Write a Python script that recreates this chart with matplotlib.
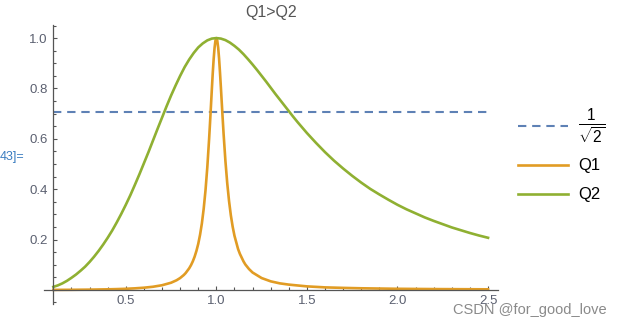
import matplotlib
matplotlib.use("Agg")
import matplotlib.pyplot as plt
from matplotlib.lines import Line2D
from matplotlib.ticker import MultipleLocator, FixedLocator

plt.rcParams['font.family'] = ['Liberation Sans', 'DejaVu Sans']
plt.rcParams['mathtext.fontset'] = 'custom'
plt.rcParams['mathtext.rm'] = 'Liberation Sans'
plt.rcParams['mathtext.it'] = 'Liberation Sans:italic'

# ---- data ----
title = "Q1>Q2"
series_names = ["Q1", "Q2"]
threshold = 0.7071
threshold_x = [0.1, 2.5]

x_q2 = [0.1, 0.125, 0.15, 0.175, 0.2, 0.225, 0.25, 0.275, 0.3, 0.325, 0.35,
        0.375, 0.4, 0.425, 0.45, 0.475, 0.5, 0.525, 0.55, 0.575, 0.6, 0.625,
        0.65, 0.675, 0.7, 0.725, 0.75, 0.775, 0.8, 0.825, 0.85, 0.875, 0.9,
        0.925, 0.95, 0.975, 1.0, 1.025, 1.05, 1.075, 1.1, 1.125, 1.15, 1.175,
        1.2, 1.225, 1.25, 1.275, 1.3, 1.325, 1.35, 1.375, 1.4, 1.425, 1.45,
        1.475, 1.5, 1.55, 1.6, 1.65, 1.7, 1.75, 1.8, 1.85, 1.9, 1.95, 2.0,
        2.05, 2.1, 2.15, 2.2, 2.25, 2.3, 2.35, 2.4, 2.45, 2.5]
q2 = [0.012, 0.018, 0.026, 0.036, 0.048, 0.061, 0.076, 0.092, 0.111, 0.132,
      0.155, 0.180, 0.207, 0.236, 0.268, 0.302, 0.338, 0.376, 0.417, 0.459,
      0.503, 0.547, 0.593, 0.639, 0.684, 0.729, 0.772, 0.812, 0.850, 0.885,
      0.915, 0.941, 0.963, 0.979, 0.991, 0.998, 1.0, 0.998, 0.992, 0.982,
      0.969, 0.954, 0.936, 0.916, 0.895, 0.873, 0.850, 0.827, 0.803, 0.779,
      0.756, 0.733, 0.710, 0.687, 0.665, 0.644, 0.623, 0.584, 0.547, 0.513,
      0.482, 0.453, 0.426, 0.401, 0.379, 0.358, 0.338, 0.320, 0.304, 0.288,
      0.274, 0.261, 0.248, 0.237, 0.226, 0.216, 0.207]

x_q1 = [0.1, 0.15, 0.2, 0.3, 0.4, 0.45, 0.5, 0.55, 0.6, 0.65, 0.7, 0.75, 0.78,
        0.8, 0.82, 0.83, 0.85, 0.86, 0.87, 0.88, 0.89, 0.9, 0.91, 0.92, 0.93,
        0.94, 0.95, 0.96, 0.965, 0.97, 0.975, 0.98, 0.985, 0.99, 0.995, 1.0,
        1.005, 1.01, 1.015, 1.02, 1.025, 1.03, 1.035, 1.04, 1.05, 1.06, 1.07,
        1.08, 1.09, 1.1, 1.12, 1.13, 1.15, 1.16, 1.18, 1.2, 1.25, 1.3, 1.35,
        1.4, 1.5, 1.6, 1.7, 1.8, 2.0, 2.2, 2.5]
q1 = [0.0001, 0.0002, 0.0004, 0.0011, 0.0023, 0.0032, 0.0044, 0.0062, 0.0087,
      0.0125, 0.0185, 0.0285, 0.0382, 0.0471, 0.059, 0.0665, 0.0858, 0.0983,
      0.1135, 0.132, 0.155, 0.183, 0.219, 0.264, 0.322, 0.395, 0.487, 0.600,
      0.663, 0.729, 0.796, 0.860, 0.916, 0.961, 0.990, 1.0, 0.990, 0.962,
      0.919, 0.864, 0.804, 0.741, 0.679, 0.619, 0.512, 0.424, 0.353, 0.296,
      0.251, 0.215, 0.162, 0.143, 0.113, 0.101, 0.083, 0.069, 0.047, 0.034,
      0.026, 0.021, 0.014, 0.010, 0.008, 0.0064, 0.0044, 0.0033, 0.0023]

x_ticks = [0.5, 1.0, 1.5, 2.0, 2.5]
y_ticks = [0.2, 0.4, 0.6, 0.8, 1.0]

c_dash = '#5E81B5'
c_q1 = '#E19C24'
c_q2 = '#8FB032'
c_axis = '#555555'
c_tick = '#5b6070'

W, H = 621, 328
fig = plt.figure(figsize=(W / 100, H / 100), dpi=100)
ax = fig.add_axes([44.3 / W, 1 - 304 / H, (498 - 44.3) / W, (304 - 25) / H])

lw = 1.9
ax.plot(threshold_x, [threshold, threshold], color=c_dash, lw=1.5,
        dashes=(4, 2.8), dash_capstyle='butt')
ax.plot(x_q1, q1, color=c_q1, lw=lw, solid_joinstyle='round')
ax.plot(x_q2, q2, color=c_q2, lw=lw, solid_joinstyle='round')

ax.set_xlim(0.05, 2.555)
ax.set_ylim(-0.056, 1.052)

for s in ['top', 'right']:
    ax.spines[s].set_visible(False)
ax.spines['left'].set_position(('data', 0.1))
ax.spines['bottom'].set_position(('data', 0.0))
for s in ['left', 'bottom']:
    ax.spines[s].set_color(c_axis)
    ax.spines[s].set_linewidth(0.9)

ax.xaxis.set_major_locator(FixedLocator(x_ticks))
ax.xaxis.set_minor_locator(MultipleLocator(0.1))
ax.yaxis.set_major_locator(FixedLocator(y_ticks))
ax.yaxis.set_minor_locator(MultipleLocator(0.05))
ax.set_xticklabels([f"{v:.1f}" for v in x_ticks])
ax.set_yticklabels([f"{v:.1f}" for v in y_ticks])
ax.tick_params(which='both', direction='in', color=c_axis, width=0.8,
               labelcolor=c_tick, labelsize=9.5)
ax.tick_params(which='major', length=3.2, pad=4)
ax.tick_params(which='minor', length=2.1)

fig.text(271 / W, 1 - 13 / H, title, ha='center', va='center',
         fontsize=11.5, color='#555555')

# legend
legend_items = [(126, c_dash, True, r'$\frac{1}{\sqrt{2}}$'),
                (165.3, c_q1, False, series_names[0]),
                (194.3, c_q2, False, series_names[1])]
for ypx, col, dashed, lab in legend_items:
    yf = 1 - ypx / H
    ln = Line2D([518 / W, 568 / W], [yf, yf], transform=fig.transFigure,
                color=col, lw=1.5 if dashed else lw)
    if dashed:
        ln.set_dashes((4, 2.8))
    fig.add_artist(ln)
    fig.text(578 / W, yf, lab, ha='left', va='center',
             fontsize=16 if dashed else 12, color='black')

fig.text(0, 1 - 157 / H, "43]=", ha='left', va='center', fontsize=9,
         color='#3a7cc0')
fig.text(607 / W, 1 - 310 / H, "CSDN @for_good_love", ha='right',
         va='center', fontsize=10.5, color='#8a8a8a')

fig.savefig("out.png", dpi=100)
